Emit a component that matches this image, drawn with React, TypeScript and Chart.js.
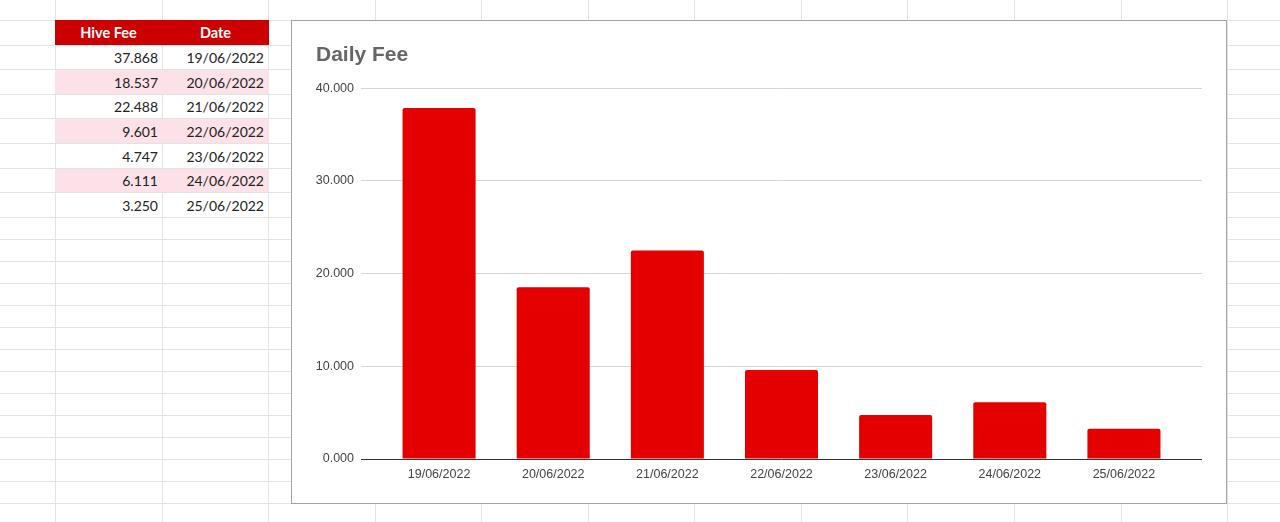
import React, { useEffect, useRef } from 'react';
import { Chart, registerables } from 'chart.js';

Chart.register(...registerables);

const chartTitle = 'Daily Fee';
const tableHeaders = ['Hive Fee', 'Date'];
const dates = ['19/06/2022', '20/06/2022', '21/06/2022', '22/06/2022', '23/06/2022', '24/06/2022', '25/06/2022'];
const hiveFee = [37.868, 18.537, 22.488, 9.601, 4.747, 6.111, 3.25];
const yTicks = [0, 10, 20, 30, 40];

const fmt = (v: number) => v.toFixed(3);

const CHART_FONT = '"Liberation Sans", Arial, sans-serif';
const GRID_COLOR = '#d6d6d6';
const ZERO_COLOR = '#333333';

const colLines = Array.from({ length: 12 }, (_, i) => 55 + i * 106.55);
const rowLines = [
  ...Array.from({ length: 9 }, (_, i) => 20 + i * 24.6),
  ...Array.from({ length: 14 }, (_, j) => 216.8 + (j + 1) * 22),
];

function SheetGrid() {
  return (
    <>
      {colLines.map((x, i) => (
        <div key={'c' + i} style={{ position: 'absolute', left: Math.round(x), top: 0, width: 1, height: 522, background: '#e3e3e3' }} />
      ))}
      {rowLines.map((y, i) => (
        <div key={'r' + i} style={{ position: 'absolute', left: 0, top: Math.round(y), width: 1280, height: 1, background: '#e3e3e3' }} />
      ))}
    </>
  );
}

function DataTable() {
  const left = 55;
  const colW = 107;
  const top = 20;
  const rowH = 24.6;
  const cellBase: React.CSSProperties = {
    position: 'absolute',
    boxSizing: 'border-box',
    display: 'flex',
    alignItems: 'center',
    fontFamily: 'Lato, "Open Sans", sans-serif',
    fontSize: 14,
    color: '#222',
  };
  return (
    <>
      <div style={{ position: 'absolute', left, top, width: colW * 2, height: Math.round(rowH), background: '#cc0000' }} />
      {tableHeaders.map((h, i) => (
        <div
          key={'h' + i}
          style={{
            ...cellBase,
            left: left + i * colW,
            top,
            width: colW,
            height: Math.round(rowH),
            justifyContent: 'center',
            color: '#fff',
            fontWeight: 700,
            fontSize: 14.5,
          }}
        >
          {h}
        </div>
      ))}
      {hiveFee.map((v, r) => {
        const y = Math.round(top + (r + 1) * rowH) + 1;
        const h = Math.round(top + (r + 2) * rowH) - y;
        const bg = r % 2 === 1 ? '#fce1e8' : 'transparent';
        return (
          <React.Fragment key={'row' + r}>
            <div style={{ position: 'absolute', left, top: y, width: colW * 2, height: h, background: bg }} />
            <div style={{ ...cellBase, left, top: y, width: colW, height: h, justifyContent: 'flex-end', paddingRight: 4 }}>
              {fmt(v)}
            </div>
            <div style={{ ...cellBase, left: left + colW, top: y, width: colW, height: h, justifyContent: 'flex-end', paddingRight: 5 }}>
              {dates[r]}
            </div>
          </React.Fragment>
        );
      })}
    </>
  );
}

function BarChart() {
  const ref = useRef<HTMLCanvasElement | null>(null);
  useEffect(() => {
    if (!ref.current) return;
    const lineColor = (ctx: any) => (ctx.tick && ctx.tick.value === 0 ? ZERO_COLOR : GRID_COLOR);
    const chart = new Chart(ref.current, {
      type: 'bar',
      data: {
        labels: dates,
        datasets: [
          {
            label: tableHeaders[0],
            data: hiveFee,
            backgroundColor: '#e50000',
            borderRadius: 2,
            categoryPercentage: 1,
            barPercentage: 0.64,
          },
        ],
      },
      options: {
        responsive: false,
        animation: false,
        devicePixelRatio: 1,
        layout: { padding: { left: 24, right: 24, top: 0, bottom: 0 } },
        plugins: {
          legend: { display: false },
          tooltip: { enabled: false },
          title: {
            display: true,
            text: chartTitle,
            align: 'start',
            color: '#666666',
            font: { family: CHART_FONT, size: 21, weight: 'bold' },
            padding: { top: 22, bottom: 20 },
          },
        },
        scales: {
          x: {
            grid: { display: false, drawTicks: false },
            border: { display: false },
            ticks: { color: '#444', font: { family: CHART_FONT, size: 12.5 }, padding: 8, maxRotation: 0, autoSkip: false },
            afterFit: (s: any) => {
              s.height = 44;
            },
          },
          y: {
            position: 'left',
            min: yTicks[0],
            max: yTicks[yTicks.length - 1],
            ticks: {
              stepSize: yTicks[1] - yTicks[0],
              color: '#444',
              padding: 7,
              font: { family: CHART_FONT, size: 12.5 },
              callback: (v: any) => fmt(Number(v)),
            },
            grid: { color: lineColor, drawTicks: true, tickLength: 21, lineWidth: 1 },
            border: { display: false },
            afterFit: (s: any) => {
              s.width = 66;
            },
          },
          y2: {
            position: 'right',
            min: yTicks[0],
            max: yTicks[yTicks.length - 1],
            ticks: { display: false, stepSize: yTicks[1] - yTicks[0] },
            grid: { color: lineColor, drawOnChartArea: false, drawTicks: true, tickLength: 21, lineWidth: 1 },
            border: { display: false },
            afterFit: (s: any) => {
              s.width = 21;
            },
          },
        },
      } as any,
    });
    return () => chart.destroy();
  }, []);
  return <canvas ref={ref} width={934} height={482} style={{ display: 'block', width: 934, height: 482 }} />;
}

export default function App() {
  return (
    <div style={{ position: 'fixed', left: 0, top: 0, width: 1280, height: 522, background: '#fff', overflow: 'hidden' }}>
      <SheetGrid />
      <DataTable />
      <div
        style={{
          position: 'absolute',
          left: 291,
          top: 20,
          width: 936,
          height: 484,
          boxSizing: 'border-box',
          border: '1px solid #a3a3a3',
          background: '#fff',
        }}
      >
        <BarChart />
      </div>
    </div>
  );
}
